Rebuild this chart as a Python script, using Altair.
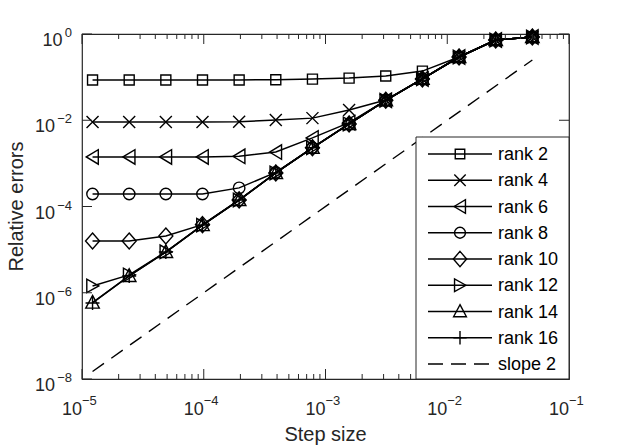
import altair as alt
import pandas as pd

# ---------------- data ----------------
step = [1.220703125e-5, 2.44140625e-5, 4.8828125e-5, 9.765625e-5, 1.953125e-4,
        3.90625e-4, 7.8125e-4, 1.5625e-3, 3.125e-3, 6.25e-3, 0.0125, 0.025, 0.05]

rank2 = [0.086, 0.086, 0.086, 0.086, 0.086, 0.087, 0.090, 0.095, 0.106, 0.138, 0.293, 0.726, 0.85]
rank4 = [0.0091, 0.0091, 0.0091, 0.0091, 0.0092, 0.0101, 0.0112, 0.0173, 0.0295, 0.091, 0.293, 0.726, 0.85]
rank6 = [1.41e-3, 1.41e-3, 1.41e-3, 1.41e-3, 1.46e-3, 1.83e-3, 3.9e-3, 0.0088, 0.029, 0.091, 0.293, 0.726, 0.85]
rank8 = [1.95e-4, 1.95e-4, 1.95e-4, 1.95e-4, 2.7e-4, 6.2e-4, 2.3e-3, 0.0082, 0.029, 0.091, 0.293, 0.726, 0.85]
rank10 = [1.58e-5, 1.58e-5, 2.07e-5, 3.8e-5, 1.42e-4, 6.0e-4, 2.3e-3, 0.0082, 0.029, 0.091, 0.293, 0.726, 0.85]
rank12 = [1.44e-6, 2.6e-6, 8.9e-6, 3.7e-5, 1.41e-4, 6.0e-4, 2.3e-3, 0.0082, 0.029, 0.091, 0.293, 0.726, 0.85]
rank14 = [5.9e-7, 2.45e-6, 8.8e-6, 3.7e-5, 1.41e-4, 6.0e-4, 2.3e-3, 0.0082, 0.029, 0.091, 0.293, 0.726, 0.85]
rank16 = [5.8e-7, 2.45e-6, 8.8e-6, 3.7e-5, 1.41e-4, 6.0e-4, 2.3e-3, 0.0082, 0.029, 0.091, 0.293, 0.726, 0.85]

series_names = ["rank 2", "rank 4", "rank 6", "rank 8", "rank 10", "rank 12", "rank 14", "rank 16"]
series_values = [rank2, rank4, rank6, rank8, rank10, rank12, rank14, rank16]

slope_x = [1.220703125e-5, 0.05]
slope_y = [1.49e-8, 0.25]
slope_name = "slope 2"

x_major = [1e-5, 1e-4, 1e-3, 1e-2, 1e-1]
x_exps = ["−5", "−4", "−3", "−2", "−1"]
x_minor = [m * d for d in [1e-5, 1e-4, 1e-3, 1e-2] for m in range(2, 10)]
y_major = [1e0, 1e-2, 1e-4, 1e-6, 1e-8]
y_exps = ["0", "−2", "−4", "−6", "−8"]

# marker shapes (SVG paths, unit = sqrt(size)/2 px)
shape_paths = [
    "M-1,-1H1V1H-1Z",                                           # square
    "M-1.2,-1.2L1.2,1.2M-1.2,1.2L1.2,-1.2",                     # x
    "M-1.25,0L1.15,-1.45L1.15,1.45Z",                           # triangle left
    "M-1.15,0A1.15,1.15,0,1,1,1.15,0A1.15,1.15,0,1,1,-1.15,0Z",   # circle
    "M0,-1.6L1.4,0L0,1.6L-1.4,0Z",                              # diamond
    "M1.25,0L-1.15,-1.35L-1.15,1.35Z",                          # triangle right
    "M0,-1.45L1.35,1.1L-1.35,1.1Z",                             # triangle up
    "M-1.4,0H1.4M0,-1.4V1.4",                                   # plus
]

# ---------------- geometry / style ----------------
W, H = 487, 345
INK = "#262626"
FONT = "Liberation Sans"

rows = []
for name, vals in zip(series_names, series_values):
    for xv, yv in zip(step, vals):
        rows.append({"series": name, "x": xv, "y": yv})
df = pd.DataFrame(rows)
df_slope = pd.DataFrame({"x": slope_x, "y": slope_y})

xscale = alt.Scale(type="log", domain=[1e-5, 1e-1], nice=False)
yscale = alt.Scale(type="log", domain=[1e-8, 1], nice=False)
shape_scale = alt.Scale(domain=series_names, range=shape_paths)

lines = alt.Chart(df).mark_line(color="black", strokeWidth=1.5).encode(
    x=alt.X("x:Q", scale=xscale, axis=None),
    y=alt.Y("y:Q", scale=yscale, axis=None),
    detail="series:N",
)

points = alt.Chart(df).mark_point(filled=False, color="black", strokeWidth=1.4, size=100, opacity=1).encode(
    x=alt.X("x:Q", scale=xscale, axis=None),
    y=alt.Y("y:Q", scale=yscale, axis=None),
    shape=alt.Shape("series:N", scale=shape_scale, legend=None),
)

slope = alt.Chart(df_slope).mark_line(color="black", strokeWidth=1.4, strokeDash=[14, 9]).encode(
    x=alt.X("x:Q", scale=xscale, axis=None),
    y=alt.Y("y:Q", scale=yscale, axis=None),
)

# ---------- inward ticks ----------
df_xmaj = pd.DataFrame({"t": x_major})
df_xmin = pd.DataFrame({"t": x_minor})
df_ymaj = pd.DataFrame({"t": y_major})

def xticks(d, length):
    base = alt.Chart(d).mark_rule(color=INK, strokeWidth=1)
    bot = base.encode(x=alt.X("t:Q", scale=xscale, axis=None), y=alt.value(H), y2=alt.value(H - length))
    top = base.encode(x=alt.X("t:Q", scale=xscale, axis=None), y=alt.value(0), y2=alt.value(length))
    return [bot, top]

def yticks(d, length):
    base = alt.Chart(d).mark_rule(color=INK, strokeWidth=1)
    left = base.encode(y=alt.Y("t:Q", scale=yscale, axis=None), x=alt.value(0), x2=alt.value(length))
    right = base.encode(y=alt.Y("t:Q", scale=yscale, axis=None), x=alt.value(W), x2=alt.value(W - length))
    return [left, right]

tick_layers = xticks(df_xmaj, 10) + xticks(df_xmin, 5) + yticks(df_ymaj, 10)

# ---------- tick labels with superscripts ----------
df_xl = pd.DataFrame({"t": x_major, "e": x_exps})
xl_base = alt.Chart(df_xl).mark_text(font=FONT, fontSize=18, color=INK, align="right",
                                    baseline="alphabetic").encode(
    x=alt.X("t:Q", scale=xscale, axis=None), y=alt.value(H + 36), text=alt.value("10"))
xl_exp = alt.Chart(df_xl).mark_text(font=FONT, fontSize=13, color=INK, align="left",
                                   baseline="alphabetic").encode(
    x=alt.X("t:Q", scale=xscale, axis=None), y=alt.value(H + 26), text="e:N")

df_yl = pd.DataFrame({"t": y_major, "e": y_exps})
yl_exp = alt.Chart(df_yl).mark_text(font=FONT, fontSize=13, color=INK, align="right",
                                   baseline="alphabetic", dy=3).encode(
    y=alt.Y("t:Q", scale=yscale, axis=None), x=alt.value(-10), text="e:N")
yl_base = alt.Chart(df_yl).transform_calculate(
    bx="-10 - (length(datum.e) > 1 ? 17 : 9.5)"
).mark_text(font=FONT, fontSize=18, color=INK, align="right", baseline="alphabetic", dy=12).encode(
    y=alt.Y("t:Q", scale=yscale, axis=None), x=alt.X("bx:Q", scale=None), text=alt.value("10"))

# ---------- axis titles ----------
title_df = pd.DataFrame({"k": [0]})
xtitle = alt.Chart(title_df).mark_text(font=FONT, fontSize=20, color=INK, align="center",
                                      baseline="alphabetic", text="Step size").encode(
    x=alt.value(W / 2), y=alt.value(H + 62))
ytitle = alt.Chart(title_df).mark_text(font=FONT, fontSize=20, color=INK, align="center",
                                      baseline="alphabetic", angle=270, text="Relative errors").encode(
    x=alt.value(-59), y=alt.value(H / 2))

# ---------- legend ----------
leg_labels = series_names + [slope_name]
df_leg = pd.DataFrame({"series": leg_labels, "i": list(range(len(leg_labels)))})
leg_y = "120 + datum.i * 26.25"
LX0, LX1, LMID, LTXT = 346, 410, 378, 416

frame = alt.Chart(title_df).mark_rect(fill="white", stroke=INK, strokeWidth=1).encode(
    x=alt.value(334), x2=alt.value(W), y=alt.value(103), y2=alt.value(H))

leg_base = alt.Chart(df_leg).transform_calculate(ly=leg_y)
leg_solid = leg_base.transform_filter(alt.datum.series != slope_name).mark_rule(
    color="black", strokeWidth=1.5).encode(
    x=alt.value(LX0), x2=alt.value(LX1), y=alt.Y("ly:Q", scale=None))
leg_dash = leg_base.transform_filter(alt.datum.series == slope_name).mark_rule(
    color="black", strokeWidth=1.4, strokeDash=[15, 8]).encode(
    x=alt.value(LX0), x2=alt.value(LX1), y=alt.Y("ly:Q", scale=None))
leg_pts = leg_base.transform_filter(alt.datum.series != slope_name).mark_point(
    filled=False, color="black", strokeWidth=1.4, size=90, opacity=1).encode(
    x=alt.value(LMID), y=alt.Y("ly:Q", scale=None),
    shape=alt.Shape("series:N", scale=shape_scale, legend=None))
leg_txt = leg_base.mark_text(font=FONT, fontSize=18, color="black", align="left",
                             baseline="middle", dy=1).encode(
    x=alt.value(LTXT), y=alt.Y("ly:Q", scale=None), text="series:N")

chart = alt.layer(
    slope, lines, points, *tick_layers,
    xl_base, xl_exp, yl_exp, yl_base, xtitle, ytitle,
    frame, leg_solid, leg_dash, leg_pts, leg_txt,
).properties(
    width=W, height=H,
    autosize=alt.AutoSizeParams(type="none"),
    padding={"left": 82, "top": 34, "right": 61, "bottom": 69},
    background="white",
).configure_view(stroke=INK, strokeWidth=1.2)

chart.save("out.html", embed_options={"renderer": "svg", "actions": False})
